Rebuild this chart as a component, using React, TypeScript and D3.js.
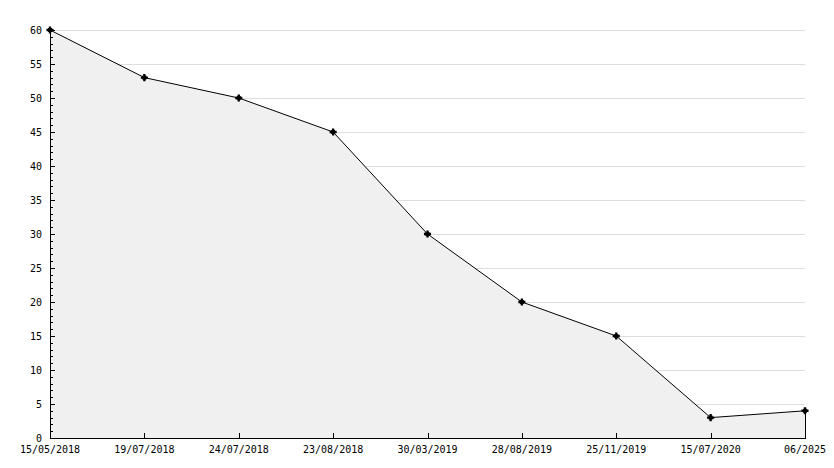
import React from "react";
import * as d3 from "d3";

const categories = ["15/05/2018", "19/07/2018", "24/07/2018", "23/08/2018", "30/03/2019", "28/08/2019", "25/11/2019", "15/07/2020", "06/2025"];
const values = [60, 53, 50, 45, 30, 20, 15, 3, 4];
const yTicks = [0, 5, 10, 15, 20, 25, 30, 35, 40, 45, 50, 55, 60];

const W = 834, H = 468;
const left = 50, right = 805, top = 30, bottom = 438;

export default function App() {
  const x = d3.scalePoint<string>().domain(categories).range([left, right]);
  const y = d3.scaleLinear().domain([0, 60]).range([bottom, top]);
  const pts: [number, number][] = categories.map((c, i) => [x(c)!, y(values[i])]);
  const area = d3.area<[number, number]>().x(d => d[0]).y0(y(0)).y1(d => d[1]);
  const line = d3.line<[number, number]>().x(d => d[0]).y(d => d[1]);
  const minor = d3.range(0, 61, 1).filter(v => v % 5 !== 0);
  const star = d3.symbol().type(d3.symbolCross).size(28)();
  const font = "'DejaVu Sans Mono', monospace";
  return (
    <svg width={W} height={H} style={{ position: "absolute", left: 0, top: 0, background: "#fff" }}>
      <rect x={0} y={0} width={W} height={H} fill="#fff" />
      {yTicks.filter(v => v > 0).map(v => (
        <line key={"g" + v} x1={left} x2={right} y1={Math.round(y(v)) + 0.5} y2={Math.round(y(v)) + 0.5} stroke="#dddddd" />
      ))}
      <path d={area(pts)!} fill="#f0f0f0" />
      <line x1={right + 0.5} x2={right + 0.5} y1={pts[pts.length - 1][1]} y2={bottom} stroke="#000" />
      <path d={line(pts)!} fill="none" stroke="#000" strokeWidth={1} />
      {/* axes */}
      <line x1={left + 0.5} x2={left + 0.5} y1={top} y2={bottom} stroke="#000" />
      <line x1={left} x2={right + 1} y1={bottom + 0.5} y2={bottom + 0.5} stroke="#000" />
      {yTicks.map(v => (
        <g key={"t" + v}>
          <line x1={left} x2={left + 5} y1={Math.round(y(v)) + 0.5} y2={Math.round(y(v)) + 0.5} stroke="#000" />
          <text x={42} y={y(v)} dy="0.35em" textAnchor="end" fontFamily={font} fontSize={10} fill="#000">{v}</text>
        </g>
      ))}
      {minor.map(v => (
        <line key={"m" + v} x1={left} x2={left + 3} y1={Math.round(y(v)) + 0.5} y2={Math.round(y(v)) + 0.5} stroke="#000" />
      ))}
      {categories.map(c => (
        <g key={"x" + c}>
          <line x1={Math.round(x(c)!) + 0.5} x2={Math.round(x(c)!) + 0.5} y1={bottom - 5} y2={bottom} stroke="#000" />
          <text x={x(c)!} y={449} dy="0.35em" textAnchor="middle" fontFamily={font} fontSize={10} fill="#000">{c}</text>
        </g>
      ))}
      {pts.map((p, i) => (
        <g key={"p" + i} transform={`translate(${p[0]},${p[1]})`}>
          <path d={star!} fill="#000" />
          <rect x={-2} y={-2} width={4} height={4} fill="#000" />
        </g>
      ))}
    </svg>
  );
}
